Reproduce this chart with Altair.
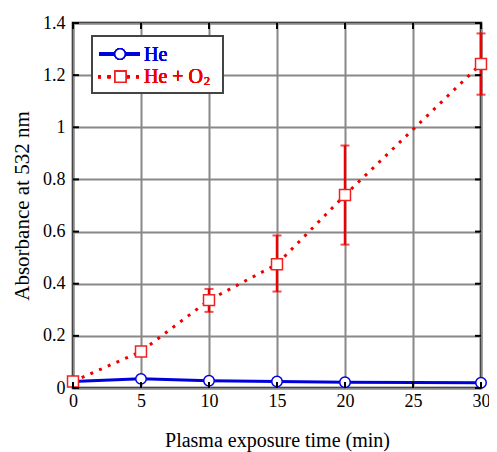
import altair as alt
import pandas as pd

time = [0, 5, 10, 15, 20, 30]
he = [0.025, 0.035, 0.028, 0.025, 0.022, 0.02]
heo2 = [0.025, 0.14, 0.337, 0.475, 0.74, 1.243]
err_time = [10, 15, 20, 30]
err_lo = [0.292, 0.37, 0.55, 1.125]
err_hi = [0.38, 0.585, 0.93, 1.36]
x_ticks = [0, 5, 10, 15, 20, 25, 30]
y_ticks = [0, 0.2, 0.4, 0.6, 0.8, 1.0, 1.2, 1.4]

W, H = 408, 365
FONT = "Liberation Serif"
BLUE = "#0000dd"
RED = "#ee0000"

df = pd.DataFrame({"t": time, "he": he, "heo2": heo2})
df_err = pd.DataFrame({"t": err_time, "lo": err_lo, "hi": err_hi})
df_xt = pd.DataFrame({"v": x_ticks})
df_yt = pd.DataFrame({"v": y_ticks})

xscale = alt.Scale(domain=[0, 30], nice=False, zero=False)
yscale = alt.Scale(domain=[0, 1.4], nice=False)

xaxis = alt.Axis(values=x_ticks, title="Plasma exposure time (min)", labelPadding=4, titlePadding=20,
                 titleFontSize=20)
yaxis = alt.Axis(values=y_ticks, title="Absorbance at 532 nm", labelPadding=8, titlePadding=10,
                 titleFontSize=21,
                 labelExpr="datum.value == 0 ? '0' : datum.value == 1 ? '1' : format(datum.value, '.1f')")

base = alt.Chart(df)

he_line = base.mark_line(color=BLUE, strokeWidth=3).encode(
    x=alt.X("t:Q", scale=xscale, axis=xaxis),
    y=alt.Y("he:Q", scale=yscale, axis=yaxis),
)
he_pts = base.mark_point(shape="circle", size=110, filled=True, fill="white", stroke=BLUE,
                         strokeWidth=1.5, opacity=1).encode(
    x=alt.X("t:Q", scale=xscale), y=alt.Y("he:Q", scale=yscale))

o2_line = base.mark_line(color=RED, strokeWidth=3, strokeDash=[3, 6.5]).encode(
    x=alt.X("t:Q", scale=xscale), y=alt.Y("heo2:Q", scale=yscale))

err_rule = alt.Chart(df_err).mark_rule(color=RED, strokeWidth=2.5).encode(
    x=alt.X("t:Q", scale=xscale), y=alt.Y("lo:Q", scale=yscale), y2="hi:Q")
err_top = alt.Chart(df_err).mark_tick(color=RED, thickness=2, size=9, orient="horizontal").encode(
    x=alt.X("t:Q", scale=xscale), y=alt.Y("hi:Q", scale=yscale))
err_bot = alt.Chart(df_err).mark_tick(color=RED, thickness=2, size=9, orient="horizontal").encode(
    x=alt.X("t:Q", scale=xscale), y=alt.Y("lo:Q", scale=yscale))

o2_pts = base.mark_point(shape="square", size=120, filled=True, fill="white", stroke="#ee2222",
                         strokeWidth=1.5, opacity=1).encode(
    x=alt.X("t:Q", scale=xscale), y=alt.Y("heo2:Q", scale=yscale))

tick_bottom = alt.Chart(df_xt).mark_rule(color="black", strokeWidth=2).encode(
    x=alt.X("v:Q", scale=xscale), y=alt.value(H), y2=alt.value(H - 6))
tick_top = alt.Chart(df_xt).mark_rule(color="black", strokeWidth=2).encode(
    x=alt.X("v:Q", scale=xscale), y=alt.value(0), y2=alt.value(6))
tick_left = alt.Chart(df_yt).mark_rule(color="black", strokeWidth=2).encode(
    y=alt.Y("v:Q", scale=yscale), x=alt.value(0), x2=alt.value(6))
tick_right = alt.Chart(df_yt).mark_rule(color="black", strokeWidth=2).encode(
    y=alt.Y("v:Q", scale=yscale), x=alt.value(W), x2=alt.value(W - 6))

# legend
leg_box = alt.Chart(df).mark_rect(fill="white", stroke="#444444", strokeWidth=2).encode(
    x=alt.value(19), x2=alt.value(150), y=alt.value(13), y2=alt.value(70))
leg_he_line = alt.Chart(df).mark_rule(color=BLUE, strokeWidth=3).encode(
    x=alt.value(26), x2=alt.value(67), y=alt.value(31))
leg_he_pt = alt.Chart(df).mark_point(shape="circle", size=110, filled=True, fill="white", stroke=BLUE,
                                     strokeWidth=1.5, opacity=1).encode(
    x=alt.value(47), y=alt.value(31))
leg_he_txt = alt.Chart(df).mark_text(text="He", font=FONT, fontSize=20, fontWeight="normal", color=BLUE,
                                     align="left", baseline="alphabetic").encode(
    x=alt.value(71), y=alt.value(37.5))
leg_o2_line = alt.Chart(df).mark_rule(color=RED, strokeWidth=3, strokeDash=[3, 6.5]).encode(
    x=alt.value(25), x2=alt.value(70), y=alt.value(53.7))
leg_o2_pt = alt.Chart(df).mark_point(shape="square", size=120, filled=True, fill="white", stroke="#ee2222",
                                     strokeWidth=1.5, opacity=1).encode(
    x=alt.value(47.5), y=alt.value(53.7))
leg_o2_txt = alt.Chart(df).mark_text(text="He + O", font=FONT, fontSize=20, fontWeight="normal",
                                     color=RED, align="left", baseline="alphabetic").encode(
    x=alt.value(71), y=alt.value(60))
leg_o2_sub = alt.Chart(df).mark_text(text="2", font=FONT, fontSize=12, fontWeight="normal",
                                     color=RED, align="left", baseline="alphabetic").encode(
    x=alt.value(131), y=alt.value(61.5))

chart = alt.layer(
    he_line, he_pts, o2_line, err_rule, err_top, err_bot, o2_pts,
    tick_bottom, tick_top, tick_left, tick_right,
    leg_box, leg_he_line, leg_he_pt, leg_he_txt, leg_o2_line, leg_o2_pt, leg_o2_txt, leg_o2_sub,
).properties(
    width=W, height=H,
    autosize=alt.AutoSizeParams(type="none"),
    padding={"left": 65, "top": 15, "right": 8, "bottom": 64},
).configure(
    background="white", font=FONT
).configure_view(
    stroke="black", strokeWidth=2.5
).configure_axis(
    domain=False, ticks=False, grid=True, gridColor="#888888", gridWidth=2,
    labelFont=FONT, labelFontSize=18, labelColor="black", labelFlush=False,
    titleFont=FONT, titleFontWeight="normal", titleColor="black",
)

chart.save("out.html", embed_options={"renderer": "svg", "actions": False})
